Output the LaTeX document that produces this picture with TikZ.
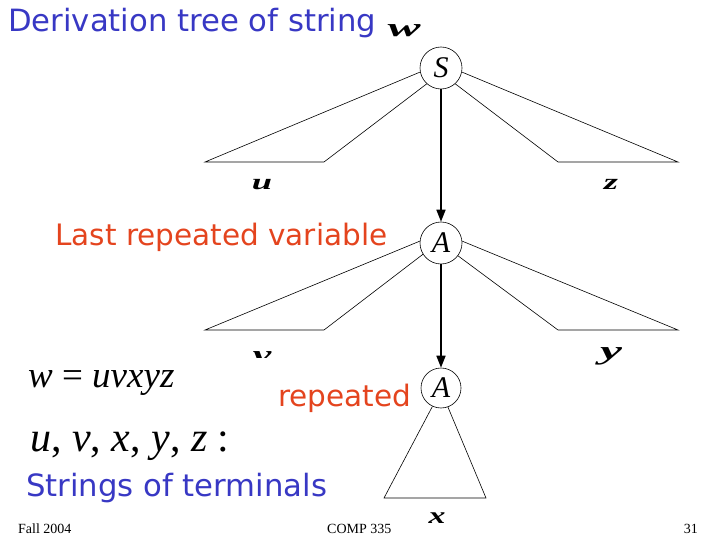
\documentclass[tikz,border=0pt]{standalone}
\usepackage{fontspec}
\setmainfont{Liberation Serif}
\newfontfamily\comic{DejaVu Sans}
\usetikzlibrary{arrows.meta}
\definecolor{tblue}{RGB}{56,56,196}
\definecolor{tred}{RGB}{228,68,30}
\begin{document}
\begin{tikzpicture}[x=1pt,y=-1pt,
  vnode/.style={circle,draw,line width=0.6pt,minimum size=42pt,inner sep=0pt,font=\fontsize{30}{30}\selectfont\itshape},
  tri/.style={line width=0.6pt,line join=miter},
  arr/.style={line width=1.6pt,-{Triangle[width=9pt,length=12pt]}},
  ctext/.style={anchor=base west,inner sep=0pt,font=\comic\fontsize{30.7}{31}\selectfont},
  rtext/.style={anchor=base west,inner sep=0pt,font=\comic\fontsize{29.5}{30}\selectfont},
  lab/.style={anchor=base,inner sep=0pt,font=\fontsize{26}{26}\selectfont\bfseries\itshape,xscale=1.6},
  ser/.style={anchor=base west,inner sep=0pt},
  foot/.style={inner sep=0pt,font=\fontsize{14}{14}\selectfont}]
\useasboundingbox (0,0) rectangle (720,540);
% variable nodes
\node[vnode] (S) at (441,68) {S};
\node[vnode] (A1) at (441,243) {A};
\node[vnode,minimum size=40pt] (A2) at (441,388) {A};
% triangle corners
\coordinate (ul1) at (205,162); \coordinate (ul2) at (324,162);
\coordinate (ur1) at (558,162); \coordinate (ur2) at (678,162);
\coordinate (ml1) at (205,330); \coordinate (ml2) at (324,330);
\coordinate (mr1) at (558,330); \coordinate (mr2) at (678,330);
\coordinate (bl) at (384,498); \coordinate (br) at (486,498);
% triangles
\draw[tri] (S.191) -- (ul1) -- (ul2) -- (S.228);
\draw[tri] (S.349) -- (ur2) -- (ur1) -- (S.312);
\draw[tri] (A1.175) -- (ml1) -- (ml2) -- (A1.212);
\draw[tri] (A1.5) -- (mr2) -- (mr1) -- (A1.323);
\draw[tri] (A2.245) -- (bl) -- (br) -- (A2.290);
% arrows
\draw[arr] (S) -- (A1);
\draw[arr] (A1) -- (A2);
% texts
\node[ctext,tblue] (title) at (8,32) {Derivation tree of string};
\node[lab,xscale=1.9/1.6] (tw) at (404,37) {w};
\node[rtext,tred] (last) at (55,245) {Last repeated variable};
\node[rtext,tred] (rep) at (278,406) {repeated};
\node[ctext,tblue] (strs) at (26,496) {Strings of terminals};
\node[ser,font=\fontsize{37}{37}\selectfont] (weq) at (28,387) {\textit{w} = \textit{uvxyz}};
\node[ser,font=\fontsize{42}{42}\selectfont] (vars) at (30,451) {\textit{u}, \textit{v}, \textit{x}, \textit{y}, \textit{z} :};
% labels
\node[lab,xscale=1.4/1.6,yscale=0.85] (lu) at (262,190) {u};
\node[lab,xscale=1.4/1.6,yscale=0.85] (lz) at (611,190) {z};
\begin{scope}
\clip (240,340) rectangle (290,357);
\node[lab] (lv) at (262,363) {v};
\end{scope}
\node[lab,xscale=1.9/1.6] (ly) at (611,359) {y};
\node[lab,xscale=1.3/1.6,yscale=0.9] (lx) at (437,523) {x};
% footer
\node[foot,anchor=base west] (f1) at (18,533) {Fall 2004};
\node[foot,anchor=base west] (f2) at (327,533) {COMP 335};
\node[foot,anchor=base east] (f3) at (698,533) {31};
\end{tikzpicture}
\end{document}
